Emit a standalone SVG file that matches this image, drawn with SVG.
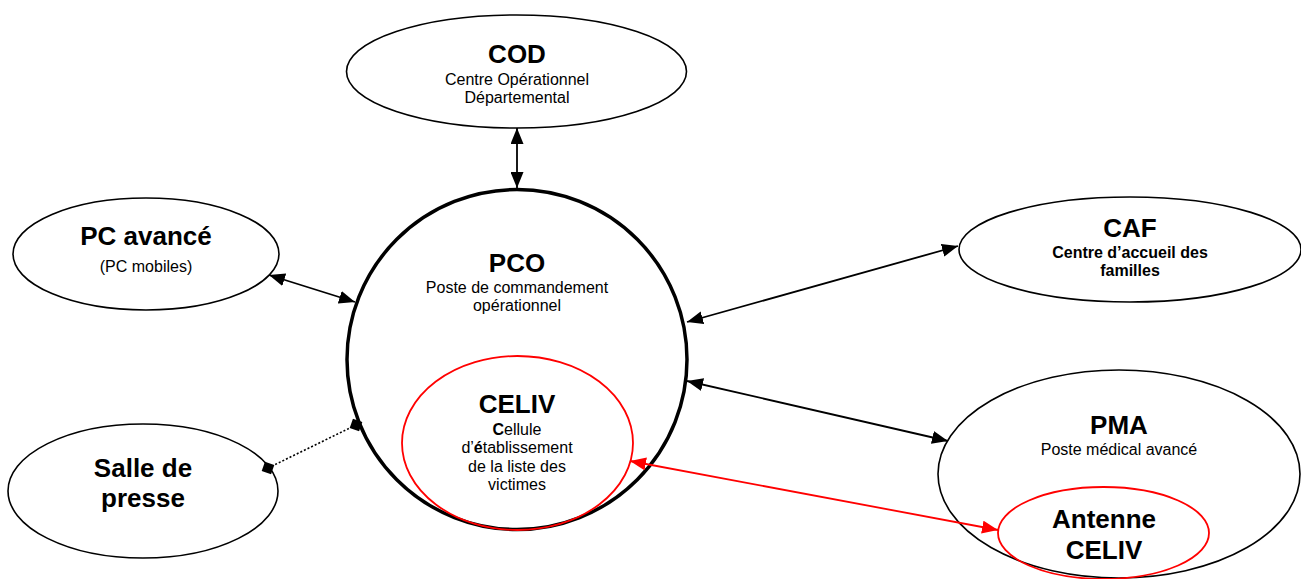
<svg xmlns="http://www.w3.org/2000/svg" width="1301" height="579" viewBox="0 0 1301 579">
<defs>
<style>
text{font-family:"Liberation Sans",Arial,sans-serif;text-anchor:middle;fill:#000}
.t{font-size:26px;font-weight:bold}
.s{font-size:16px}
.sb{font-size:16px;font-weight:bold}
.node{fill:#fff;stroke:#000;stroke-width:1.6}
.red{fill:none;stroke:#f00;stroke-width:1.8}
.c{stroke:#000;stroke-width:1.8;fill:none}
.cr{stroke:#f00;stroke-width:1.8;fill:none}
</style>
<marker id="ah" markerUnits="userSpaceOnUse" markerWidth="17" markerHeight="13" refX="16" refY="6.5" orient="auto-start-reverse"><path d="M0,0 L16,6.5 L0,13 z" fill="#000"/></marker>
<marker id="ahr" markerUnits="userSpaceOnUse" markerWidth="17" markerHeight="13" refX="16" refY="6.5" orient="auto-start-reverse"><path d="M0,0 L16,6.5 L0,13 z" fill="#f00"/></marker>
<marker id="dm" markerUnits="userSpaceOnUse" markerWidth="14" markerHeight="14" refX="7" refY="7" orient="auto"><path d="M0,7 L7,0 L14,7 L7,14 z" fill="#000"/></marker>
</defs>
<rect width="1301" height="579" fill="#fff"/>
<g id="cod"><ellipse class="node" cx="516.5" cy="71.5" rx="170" ry="56.5"/>
<text class="t" x="517" y="63">COD</text>
<text class="s" x="517" y="85">Centre Opérationnel</text>
<text class="s" x="517" y="103">Départemental</text></g>
<g id="pc-avance"><ellipse class="node" cx="146" cy="254" rx="133" ry="56"/>
<text class="t" x="146" y="245">PC avancé</text>
<text class="s" x="146" y="272">(PC mobiles)</text></g>
<g id="salle-presse"><ellipse class="node" cx="143" cy="491" rx="135" ry="67"/>
<text class="t" x="143" y="477">Salle de</text>
<text class="t" x="143" y="507">presse</text></g>
<g id="caf"><ellipse class="node" cx="1130" cy="249.5" rx="171" ry="52.5"/>
<text class="t" x="1130" y="237">CAF</text>
<text class="sb" x="1130" y="258">Centre d’accueil des</text>
<text class="sb" x="1130" y="276">familles</text></g>
<g id="pma"><ellipse class="node" cx="1119" cy="474" rx="181" ry="104"/>
<text class="t" x="1119" y="434">PMA</text>
<text class="s" x="1119" y="455">Poste médical avancé</text></g>
<g id="antenne-celiv"><ellipse class="red" cx="1103.5" cy="533" rx="105.5" ry="46"/>
<text class="t" x="1104" y="528">Antenne</text>
<text class="t" x="1104" y="559">CELIV</text></g>
<g id="pco"><circle cx="517" cy="359.5" r="170" fill="#fff" stroke="#000" stroke-width="3.5"/>
<text class="t" x="517" y="272">PCO</text>
<text class="s" x="517" y="293">Poste de commandement</text>
<text class="s" x="517" y="311">opérationnel</text></g>
<g id="celiv"><ellipse class="red" cx="517.5" cy="443" rx="115.5" ry="87"/>
<text class="t" x="517" y="413">CELIV</text>
<text class="s" x="517" y="435"><tspan font-weight="bold">C</tspan>ellule</text>
<text class="s" x="517" y="453">d’<tspan font-weight="bold">é</tspan>tablissement</text>
<text class="s" x="517" y="472">de la liste des</text>
<text class="s" x="517" y="490">victimes</text></g>
<g id="connectors">
<line class="c" x1="517" y1="128" x2="517" y2="188" marker-start="url(#ah)" marker-end="url(#ah)"/>
<line class="c" x1="269" y1="275" x2="355" y2="302" marker-start="url(#ah)" marker-end="url(#ah)"/>
<line class="c" x1="687" y1="322" x2="958" y2="246" marker-start="url(#ah)" marker-end="url(#ah)"/>
<line class="c" x1="687" y1="381" x2="948" y2="441" marker-start="url(#ah)" marker-end="url(#ah)"/>
<line class="cr" x1="630" y1="461" x2="998" y2="530" marker-start="url(#ahr)" marker-end="url(#ahr)"/>
<line x1="268" y1="468" x2="356" y2="425" stroke="#000" stroke-width="1.6" stroke-dasharray="2,2" marker-start="url(#dm)" marker-end="url(#dm)"/>
</g>
</svg>
